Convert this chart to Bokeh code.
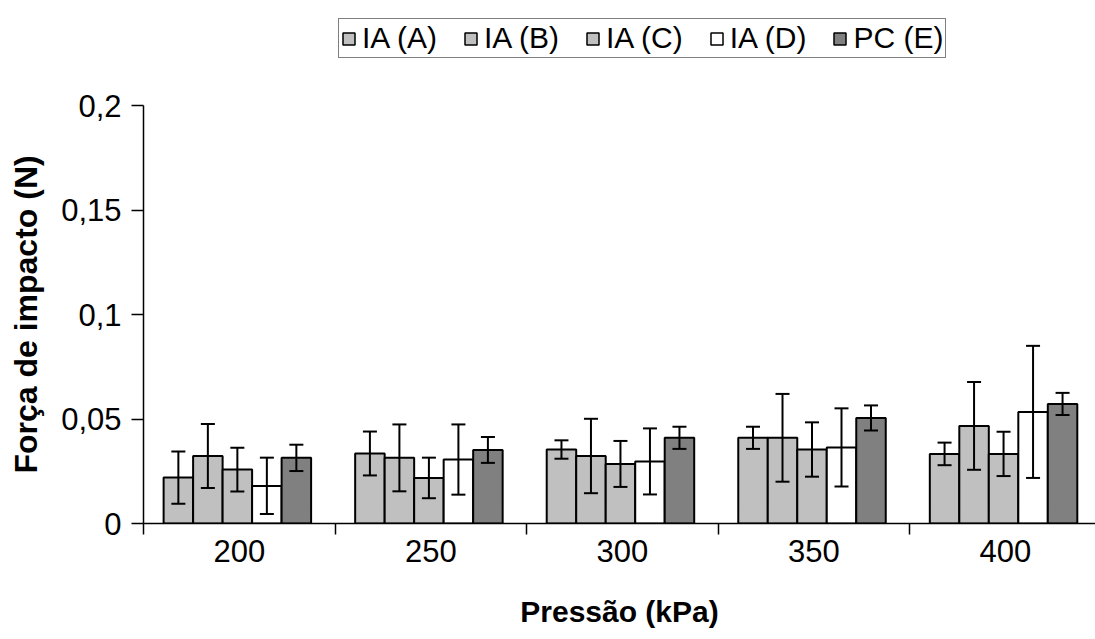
from bokeh.plotting import figure
from bokeh.layouts import column
from bokeh.models import (ColumnDataSource, Range1d, FixedTicker, Whisker, TeeHead,
                          Legend, LegendItem)
from bokeh.embed import file_html
from bokeh.resources import INLINE

# ---- data ----
categories = ["200", "250", "300", "350", "400"]
series = ["IA (A)", "IA (B)", "IA (C)", "IA (D)", "PC (E)"]
values = {
    "IA (A)": [0.022, 0.0335, 0.0354, 0.041, 0.0333],
    "IA (B)": [0.0323, 0.0314, 0.0323, 0.041, 0.0467],
    "IA (C)": [0.0258, 0.0218, 0.0285, 0.0354, 0.0333],
    "IA (D)": [0.018, 0.0306, 0.0297, 0.0364, 0.0534],
    "PC (E)": [0.0314, 0.0352, 0.041, 0.0505, 0.0572],
}
errors = {
    "IA (A)": [0.0125, 0.0105, 0.0044, 0.0053, 0.0054],
    "IA (B)": [0.0153, 0.016, 0.0178, 0.021, 0.021],
    "IA (C)": [0.0105, 0.0097, 0.011, 0.013, 0.0106],
    "IA (D)": [0.0135, 0.0168, 0.0158, 0.0187, 0.0316],
    "PC (E)": [0.0063, 0.0062, 0.0053, 0.006, 0.0053],
}
y_ticks = [0, 0.05, 0.1, 0.15, 0.2]
y_tick_labels = ["0", "0,05", "0,1", "0,15", "0,2"]

colors = ["#C0C0C0", "#C0C0C0", "#C0C0C0", "#FFFFFF", "#808080"]
FONT = "Liberation Sans"

# ---- main chart ----
p = figure(width=1095, height=554, output_backend="svg", toolbar_location=None,
           x_range=Range1d(0, 4.97), y_range=Range1d(0, 0.2),
           min_border_left=143, min_border_right=0, min_border_top=20,
           min_border_bottom=116)
p.outline_line_color = None
p.xgrid.visible = False
p.ygrid.visible = False
p.background_fill_color = "white"

bar_w = 0.154
centers = [i + 0.49 for i in range(len(categories))]
for k, s in enumerate(series):
    xs = [c + (k - 2) * bar_w for c in centers]
    v = values[s]
    e = errors[s]
    src = ColumnDataSource(dict(x=xs, top=v,
                                upper=[a + b for a, b in zip(v, e)],
                                lower=[a - b for a, b in zip(v, e)]))
    p.vbar(x="x", top="top", width=bar_w, bottom=0, source=src,
           fill_color=colors[k], line_color="black", line_width=2)
    w = Whisker(source=src, base="x", upper="upper", lower="lower",
                line_color="black", line_width=2, level="annotation",
                upper_head=TeeHead(size=14, line_color="black", line_width=2),
                lower_head=TeeHead(size=14, line_color="black", line_width=2))
    p.add_layout(w)

# x axis: labels at group centers, ticks at group boundaries
xax = p.xaxis[0]
xax.ticker = FixedTicker(ticks=[i + 0.5 for i in range(len(categories))],
                         minor_ticks=list(range(len(categories) + 1)))
xax.major_label_overrides = {i + 0.5: c for i, c in enumerate(categories)}
xax.major_tick_out = 0
xax.major_tick_in = 0
xax.minor_tick_out = 11
xax.minor_tick_in = 0
xax.minor_tick_line_color = "black"
xax.minor_tick_line_width = 1.5
xax.axis_line_width = 1.5
xax.axis_line_color = "black"
xax.major_label_text_font = FONT
xax.major_label_text_font_size = "31px"
xax.major_label_text_color = "black"
xax.major_label_standoff = 5
xax.axis_label = "Pressão (kPa)"
xax.axis_label_text_font = FONT
xax.axis_label_text_font_style = "bold"
xax.axis_label_text_font_size = "30px"
xax.axis_label_text_color = "black"
xax.axis_label_standoff = 30

yax = p.yaxis[0]
yax.ticker = FixedTicker(ticks=y_ticks, minor_ticks=[])
yax.major_label_overrides = {t: l for t, l in zip(y_ticks, y_tick_labels)}
yax.major_tick_out = 12
yax.major_tick_in = 0
yax.major_tick_line_width = 1.5
yax.axis_line_width = 1.5
yax.axis_line_color = "black"
yax.major_label_text_font = FONT
yax.major_label_text_font_size = "31px"
yax.major_label_text_color = "black"
yax.major_label_standoff = 10
yax.axis_label = "Força de impacto (N)"
yax.axis_label_text_font = FONT
yax.axis_label_text_font_style = "bold"
yax.axis_label_text_font_size = "32px"
yax.axis_label_text_color = "black"
yax.axis_label_standoff = 14

# ---- legend strip above the chart ----
lg = figure(width=1095, height=85, output_backend="svg", toolbar_location=None,
            x_range=Range1d(0, 1), y_range=Range1d(0, 1),
            min_border_left=0, min_border_right=0, min_border_top=0,
            min_border_bottom=0)
lg.axis.visible = False
lg.grid.visible = False
lg.outline_line_color = None
items = []
nan = float("nan")
for k, s in enumerate(series):
    # an empty (NaN) bar: it draws nothing, but gives the legend its swatch style
    r = lg.vbar(x=[nan], bottom=[nan], top=[nan], width=0.01,
                fill_color=colors[k], line_color="black", line_width=1.5)
    items.append(LegendItem(label=s, renderers=[r]))
legend = Legend(items=items, orientation="horizontal", location=(195, 27),
                glyph_width=15, glyph_height=15, label_standoff=6, spacing=26,
                padding=2, margin=0, label_text_font=FONT,
                label_text_font_size="30px", label_text_color="black",
                border_line_color="black", border_line_width=1.5,
                background_fill_color="white", background_fill_alpha=1.0)
lg.add_layout(legend, "center")

layout = column(lg, p, spacing=0)
open("out.html", "w").write(file_html(layout, INLINE))
